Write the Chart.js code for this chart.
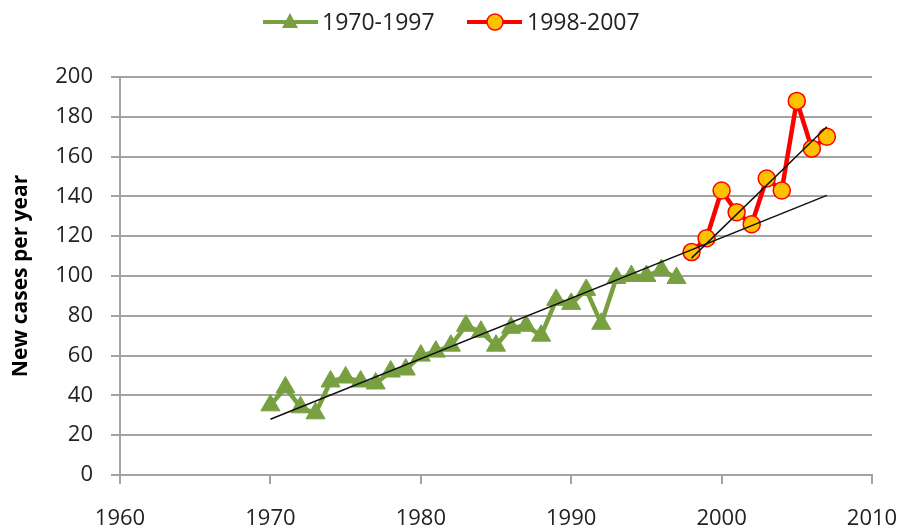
<!DOCTYPE html>
<html>
<head>
<meta charset="utf-8">
<script src="https://cdn.jsdelivr.net/npm/chart.js@4.4.0/dist/chart.umd.min.js"></script>
<style>
  html, body { margin: 0; padding: 0; background: #fff; }
  #wrap { width: 903px; height: 529px; }
</style>
</head>
<body>
<div id="wrap"><canvas id="cases"></canvas></div>
<script>
// データ
const years1 = [1970, 1971, 1972, 1973, 1974, 1975, 1976, 1977, 1978, 1979,
                1980, 1981, 1982, 1983, 1984, 1985, 1986, 1987, 1988, 1989,
                1990, 1991, 1992, 1993, 1994, 1995, 1996, 1997];
const cases1 = [35, 44, 34, 31, 47, 49, 47, 46, 52, 53,
                60, 62, 65, 75, 72, 65, 74, 75, 70, 88,
                86, 93, 76, 99, 100, 100, 103, 99];
const years2 = [1998, 1999, 2000, 2001, 2002, 2003, 2004, 2005, 2006, 2007];
const cases2 = [112, 119, 143, 132, 126, 149, 143, 188, 164, 170];

// トレンド線の両端
const trendAllX = [1970, 2007];
const trendAllY = [28, 140.5];
const trendRecentX = [1998, 2007];
const trendRecentY = [109, 175];

const seriesNames = ['1970-1997', '1998-2007'];
const xTicks = [1960, 1970, 1980, 1990, 2000, 2010];
const yTicks = [0, 20, 40, 60, 80, 100, 120, 140, 160, 180, 200];

const green = '#78A040';
const red = '#FF0000';
const orange = '#FFC000';
const gridColor = '#a3a3a3';
const fontFamily = '"Open Sans", "Liberation Sans", sans-serif';

function toPoints(xs, ys) {
    return xs.map((x, i) => ({x: x, y: ys[i]}));
}

// 凡例（線＋マーカー）を自前で描く
const legendPlugin = {
    id: 'lineLegend',
    afterDraw(chart) {
        const ctx = chart.ctx;
        const y = 22;
        ctx.save();
        ctx.font = '23px ' + fontFamily;
        ctx.textBaseline = 'middle';
        // 1970-1997
        ctx.strokeStyle = green;
        ctx.lineWidth = 4;
        ctx.beginPath(); ctx.moveTo(263, y); ctx.lineTo(318, y); ctx.stroke();
        ctx.fillStyle = green;
        ctx.beginPath();
        ctx.moveTo(290, y - 9); ctx.lineTo(290 + 8, y + 6); ctx.lineTo(290 - 8, y + 6);
        ctx.closePath(); ctx.fill();
        ctx.fillStyle = '#222';
        ctx.fillText(seriesNames[0], 322, y + 1);
        // 1998-2007
        ctx.strokeStyle = red;
        ctx.beginPath(); ctx.moveTo(467, y); ctx.lineTo(522, y); ctx.stroke();
        ctx.fillStyle = orange;
        ctx.lineWidth = 1.5;
        ctx.beginPath(); ctx.arc(495, y, 8, 0, Math.PI * 2); ctx.fill(); ctx.stroke();
        ctx.fillStyle = '#222';
        ctx.fillText(seriesNames[1], 527, y + 1);
        ctx.restore();
    }
};

const ctx = document.getElementById('cases');
const chart = new Chart(ctx, {
    type: 'line',
    data: {
        datasets: [{
            label: 'trend 1970-2007',
            data: toPoints(trendAllX, trendAllY),
            borderColor: '#111',
            borderWidth: 1.5,
            pointRadius: 0,
            order: 0
        }, {
            label: 'trend 1998-2007',
            data: toPoints(trendRecentX, trendRecentY),
            borderColor: '#111',
            borderWidth: 1.5,
            pointRadius: 0,
            order: 0
        }, {
            label: seriesNames[1],
            data: toPoints(years2, cases2),
            borderColor: red,
            borderWidth: 4.5,
            pointStyle: 'circle',
            pointRadius: 8.5,
            pointBackgroundColor: orange,
            pointBorderColor: red,
            pointBorderWidth: 1.5,
            order: 1
        }, {
            label: seriesNames[0],
            data: toPoints(years1, cases1),
            borderColor: green,
            borderWidth: 4.5,
            pointStyle: 'triangle',
            pointRadius: 11,
            pointBackgroundColor: green,
            pointBorderColor: green,
            pointBorderWidth: 1,
            order: 2
        }]
    },
    options: {
        responsive: true,
        maintainAspectRatio: false,
        animation: false,
        layout: {
            padding: {top: 77, right: 31, bottom: 0, left: 0}
        },
        plugins: {
            legend: {display: false},
            tooltip: {enabled: false}
        },
        scales: {
            x: {
                type: 'linear',
                min: xTicks[0],
                max: xTicks[xTicks.length - 1],
                afterBuildTicks: function(scale) {
                    scale.ticks = xTicks.map(v => ({value: v}));
                },
                afterFit: function(scale) {
                    scale.height = 54;
                    scale.paddingLeft = 0;
                    scale.paddingRight = 0;
                },
                grid: {
                    drawOnChartArea: false,
                    drawTicks: true,
                    tickLength: 9,
                    color: gridColor,
                    lineWidth: 2
                },
                border: {display: true, color: gridColor, width: 2},
                ticks: {
                    padding: 22,
                    color: '#222',
                    font: {family: fontFamily, size: 22},
                    callback: v => String(v)
                }
            },
            y: {
                min: yTicks[0],
                max: yTicks[yTicks.length - 1],
                afterBuildTicks: function(scale) {
                    scale.ticks = yTicks.map(v => ({value: v}));
                },
                afterFit: function(scale) {
                    scale.width = 120;
                    scale.paddingTop = 0;
                    scale.paddingBottom = 0;
                },
                grid: {
                    drawTicks: true,
                    tickLength: 9,
                    color: gridColor,
                    lineWidth: 2
                },
                border: {display: true, color: gridColor, width: 2},
                ticks: {
                    padding: 18,
                    color: '#222',
                    font: {family: fontFamily, size: 22}
                },
                title: {
                    display: true,
                    text: 'New cases per year',
                    color: '#000',
                    font: {family: fontFamily, size: 21, weight: 'bold'},
                    padding: {top: 8, bottom: 0}
                }
            }
        }
    },
    plugins: [legendPlugin]
});
</script>
</body>
</html>
